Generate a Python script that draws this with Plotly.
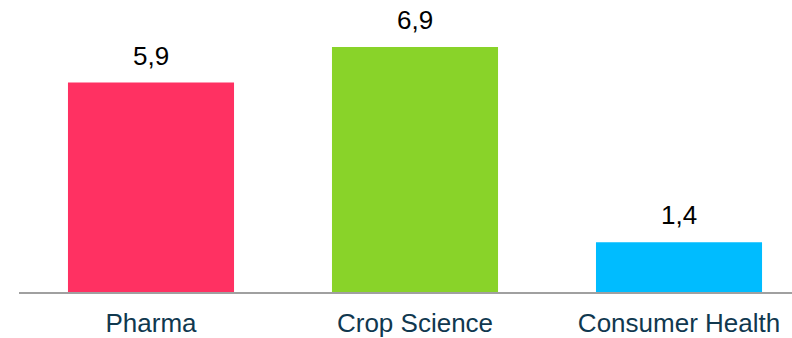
import plotly.graph_objects as go

# Segment sales figures
categories = ["Pharma", "Crop Science", "Consumer Health"]
values = [5.9, 6.9, 1.4]
bar_colors = ["#FF3162", "#89D329", "#00BCFF"]

fig = go.Figure()
fig.add_trace(go.Bar(
    x=categories,
    y=values,
    marker=dict(color=bar_colors, line=dict(width=0)),
    hoverinfo="skip",
))

# Value labels above each bar, decimal comma
for cat, val in zip(categories, values):
    fig.add_annotation(
        x=cat, y=val,
        text=f"{val:.1f}".replace(".", ","),
        showarrow=False,
        yanchor="bottom",
        yshift=10,
        font=dict(family="Liberation Sans, Arial, sans-serif", size=26, color="#000000"),
    )

fig.update_layout(
    width=792,
    height=338,
    margin=dict(l=19, r=0, t=0, b=46),
    paper_bgcolor="white",
    plot_bgcolor="white",
    bargap=0.371,
    showlegend=False,
    xaxis=dict(
        range=[-0.5, 2.428],
        showline=True,
        linecolor="#A0A0A0",
        linewidth=2,
        showgrid=False,
        zeroline=False,
        ticks="",
        ticklabelstandoff=7,
        tickfont=dict(family="Liberation Sans, Arial, sans-serif", size=26, color="#10384F"),
    ),
    yaxis=dict(
        range=[0, 8.225],
        visible=False,
        showgrid=False,
        zeroline=False,
    ),
)

fig.write_html("out.html")
